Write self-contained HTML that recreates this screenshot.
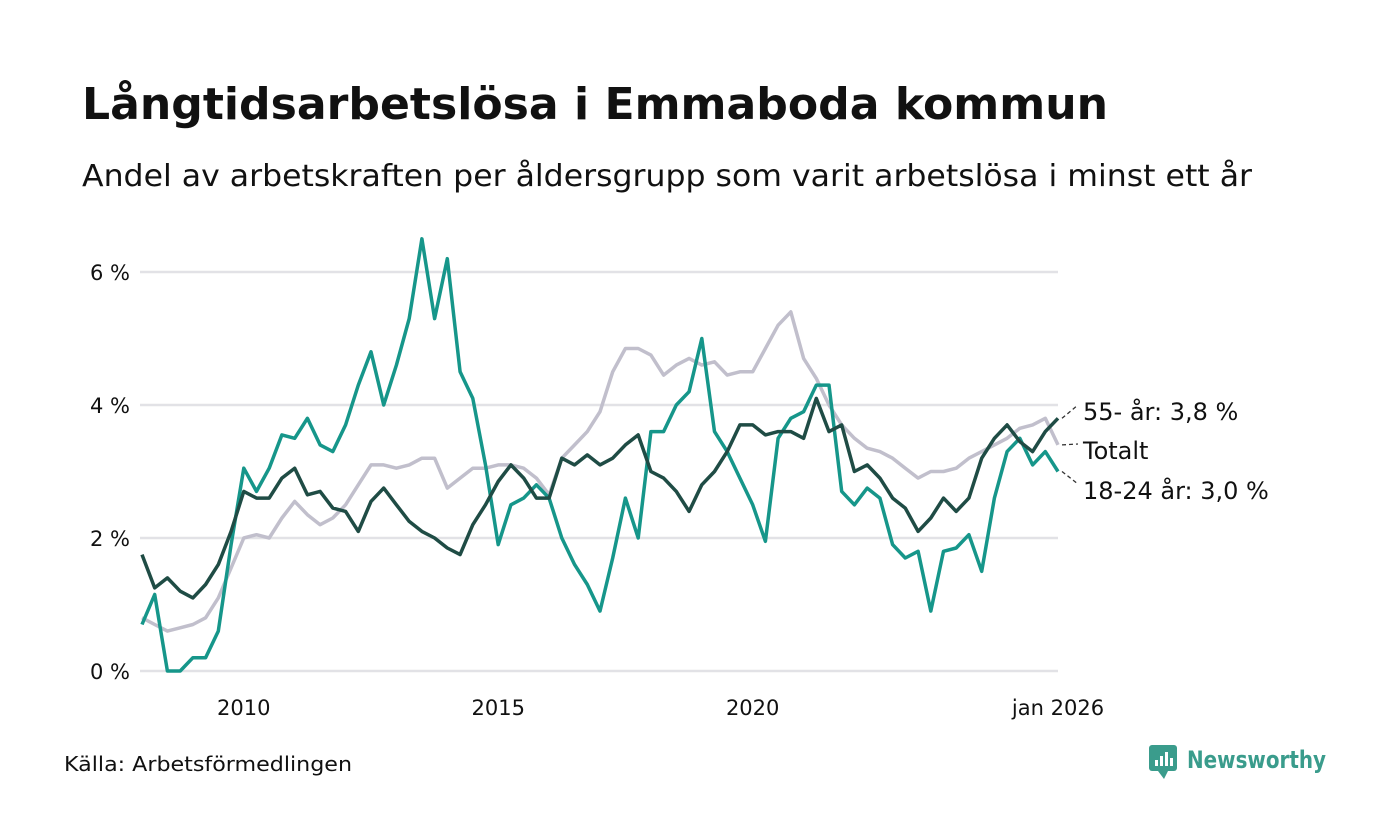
<!DOCTYPE html>
<html><head><meta charset="utf-8"><style>
body{margin:0;background:#fff;font-family:"DejaVu Sans","Liberation Sans",sans-serif;}
#wrap{position:relative;width:1400px;height:840px;overflow:hidden;background:#fff}
</style></head><body>
<div id="wrap">
<svg id="svg" width="1400" height="840">
<text x="82" y="119" font-size="44" font-weight="bold" fill="#111" textLength="1026" lengthAdjust="spacingAndGlyphs">Långtidsarbetslösa i Emmaboda kommun</text>
<text x="82" y="186" font-size="30" fill="#111" textLength="1170" lengthAdjust="spacingAndGlyphs">Andel av arbetskraften per åldersgrupp som varit arbetslösa i minst ett år</text>
<g id="grid"></g><g id="lines"></g><g id="labels"></g>
<text x="64" y="771" font-size="20" fill="#111" textLength="288" lengthAdjust="spacingAndGlyphs">Källa: Arbetsförmedlingen</text>
<g>
<rect x="1149" y="745" width="28" height="26" rx="3" fill="#3a9c8c"/>
<polygon points="1158,771 1164,779 1168,771" fill="#3a9c8c"/>
<rect x="1155" y="760" width="3" height="6" fill="#fff"/><rect x="1160" y="756" width="3" height="10" fill="#fff"/><rect x="1165" y="752" width="3" height="14" fill="#fff"/><rect x="1170" y="758" width="3" height="8" fill="#fff"/>
<text x="1187" y="768" font-size="24" font-weight="bold" fill="#3a9c8c" textLength="139" lengthAdjust="spacingAndGlyphs">Newsworthy</text>
</g>
</svg></div>
<script>
const months=[];for(let i=0;i<=216;i+=3)months.push(i);
const yTicks=[0,2,4,6];
const yTickLabels=["0 %","2 %","4 %","6 %"];
const xTickYears=[2010,2015,2020,2026];
const xTickLabels=["2010","2015","2020","jan 2026"];
const youth=[0.7,1.15,0,0,0.2,0.2,0.6,1.9,3.05,2.7,3.05,3.55,3.5,3.8,3.4,3.3,3.7,4.3,4.8,4.0,4.6,5.3,6.5,5.3,6.2,4.5,4.1,3.1,1.9,2.5,2.6,2.8,2.6,2.0,1.6,1.3,0.9,1.7,2.6,2.0,3.6,3.6,4.0,4.2,5.0,3.6,3.3,2.9,2.5,1.95,3.5,3.8,3.9,4.3,4.3,2.7,2.5,2.75,2.6,1.9,1.7,1.8,0.9,1.8,1.85,2.05,1.5,2.6,3.3,3.5,3.1,3.3,3.0];
const senior=[1.75,1.25,1.4,1.2,1.1,1.3,1.6,2.1,2.7,2.6,2.6,2.9,3.05,2.65,2.7,2.45,2.4,2.1,2.55,2.75,2.5,2.25,2.1,2.0,1.85,1.75,2.2,2.5,2.85,3.1,2.9,2.6,2.6,3.2,3.1,3.25,3.1,3.2,3.4,3.55,3.0,2.9,2.7,2.4,2.8,3.0,3.3,3.7,3.7,3.55,3.6,3.6,3.5,4.1,3.6,3.7,3.0,3.1,2.9,2.6,2.45,2.1,2.3,2.6,2.4,2.6,3.2,3.5,3.7,3.45,3.3,3.6,3.8];
const total=[0.8,0.7,0.6,0.65,0.7,0.8,1.1,1.55,2.0,2.05,2.0,2.3,2.55,2.35,2.2,2.3,2.5,2.8,3.1,3.1,3.05,3.1,3.2,3.2,2.75,2.9,3.05,3.05,3.1,3.1,3.05,2.9,2.65,3.2,3.4,3.6,3.9,4.5,4.85,4.85,4.75,4.45,4.6,4.7,4.6,4.65,4.45,4.5,4.5,4.85,5.2,5.4,4.7,4.4,4.0,3.7,3.5,3.35,3.3,3.2,3.05,2.9,3.0,3.0,3.05,3.2,3.3,3.4,3.5,3.65,3.7,3.8,3.4];
const seriesNames=["55- år: 3,8 %","Totalt","18-24 år: 3,0 %"];
const NS="http://www.w3.org/2000/svg";
const X=m=>142+m*(916/216);
const XY=yr=>X((yr-2008)*12);
const Y=v=>671-v*66.5;
const grid=document.getElementById('grid'),lines=document.getElementById('lines'),labels=document.getElementById('labels');
function mk(tag,attrs,parent){const e=document.createElementNS(NS,tag);for(const k in attrs)e.setAttribute(k,attrs[k]);parent.appendChild(e);return e;}
yTicks.forEach((t,i)=>{
 const l=mk('line',{x1:140,x2:1058,y1:Y(t),y2:Y(t),stroke:'#e2e2e6','stroke-width':2.5},grid);
 
 
 const tx=mk('text',{x:130,y:Y(t)+8,'font-size':21,'text-anchor':'end',fill:'#111'},grid);
 tx.textContent=yTickLabels[i];
 
 
});
xTickYears.forEach((yr,i)=>{
 const tx=mk('text',{x:XY(yr),y:715,'font-size':21,'text-anchor':'middle',fill:'#111'},grid);
 tx.textContent=xTickLabels[i];
 
 
});
function draw(vals,color,name){
 const d=vals.map((v,i)=>(i?'L':'M')+X(months[i]).toFixed(1)+','+Y(v).toFixed(1)).join(' ');
 const p=mk('path',{d:d,fill:'none',stroke:color,'stroke-width':3.5,'stroke-linejoin':'round'},lines);
 
 
}
draw(total,'#c1bfcc','line-totalt');
draw(youth,'#16968a','line-18-24');
draw(senior,'#1f4c45','line-55-plus');
const ends=[senior,total,youth],labY=[412,451,491];
ends.forEach((s,i)=>{
 const ex=X(months[months.length-1]),ey=Y(s[s.length-1]);
 const l=mk('line',{x1:ex+4,y1:ey,x2:1078,y2:labY[i]-7,stroke:'#333','stroke-width':1.3,'stroke-dasharray':'4,3'},labels);
 
 
 const t=mk('text',{x:1083,y:labY[i]+8,'font-size':24,fill:'#111'},labels);
 t.textContent=seriesNames[i];
 
 
});
</script>
</body></html>
